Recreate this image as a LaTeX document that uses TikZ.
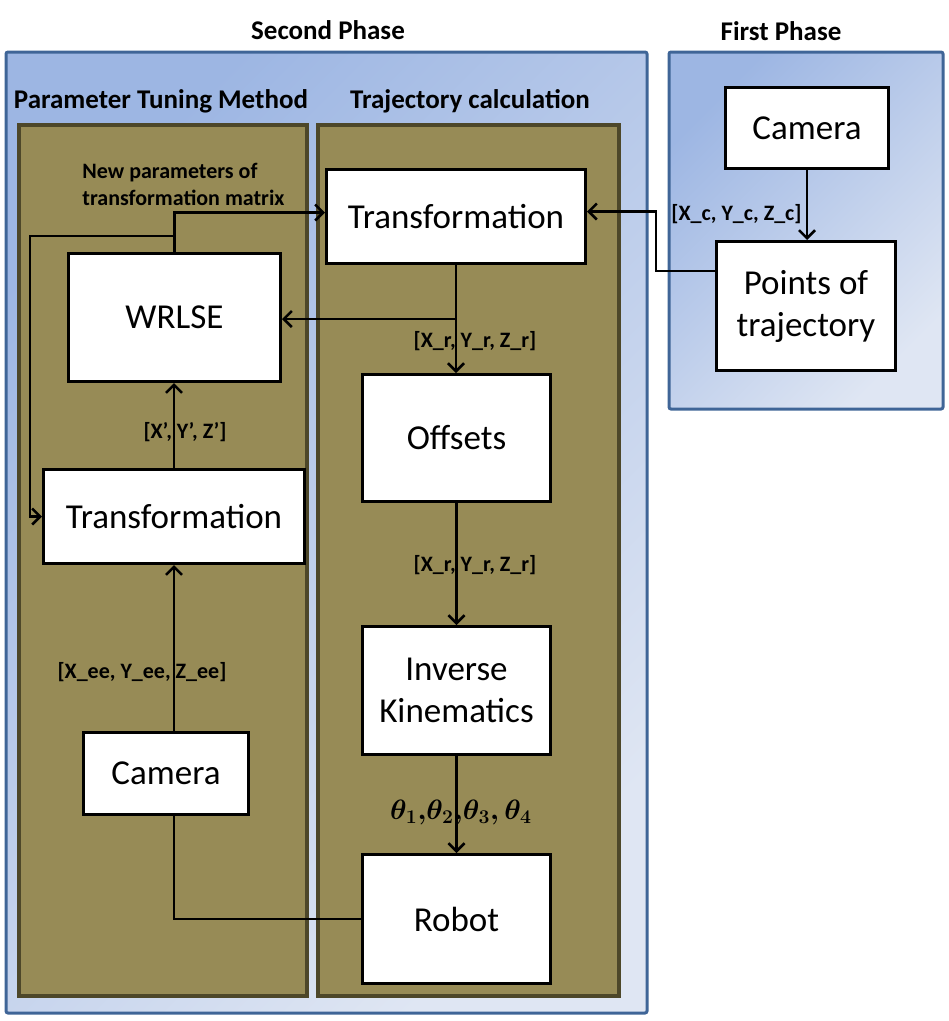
\documentclass[tikz,border=0pt]{standalone}
\usepackage{amsmath}
\usepackage{fontspec}
\setmainfont{Carlito}
\usetikzlibrary{arrows.meta}
\definecolor{phaseblueA}{HTML}{9DB6E3}
\definecolor{phaseblueB}{HTML}{DFE6F3}
\definecolor{phaseline}{HTML}{3F6597}
\definecolor{olivefill}{HTML}{978B56}
\definecolor{oliveline}{HTML}{4D4729}
\begin{document}
\begin{tikzpicture}[x=1pt, y=-1pt,
    >={Straight Barb[length=8pt,width=16pt]},
    every node/.style={font=\fontsize{35}{42}\selectfont},
    box/.style={draw, line width=3pt, fill=white, inner sep=0pt, align=center},
    phase/.style={draw=phaseline, line width=3pt, rounded corners=2pt, top color=phaseblueA, bottom color=phaseblueB, shading angle=45},
    panel/.style={draw=oliveline, line width=4pt, fill=olivefill},
    title/.style={font=\fontsize{27}{32}\selectfont\bfseries},
    lbl/.style={font=\fontsize{22}{27}\selectfont\bfseries, inner sep=0pt},
    conn/.style={line width=2.5pt}]
    \useasboundingbox (0,0) rectangle (949,1021);

    % Phases
    \path[phase] (6,52) rectangle (647,1013);
    \path[phase] (669,52) rectangle (943,409);
    \node[title] (secondT) at (328,30) {Second Phase};
    \node[title] (firstT) at (781,31) {First Phase};

    % Panels of the second phase
    \path[panel] (19,125) rectangle (307,996);
    \path[panel] (318,125) rectangle (619,996);
    \node[title] (tuneT) at (161,101) {Parameter Tuning Method};
    \node[title] (trajT) at (470,101) {Trajectory calculation};

    % First phase
    \node[box, minimum width=163, minimum height=81] (camA) at (807,128) {Camera};
    \node[box, minimum width=179, minimum height=129] (pts) at (806,306) {Points of\\trajectory};

    % Trajectory calculation
    \node[box, minimum width=259, minimum height=94] (trB) at (456,216.5) {Transformation};
    \node[box, minimum width=188, minimum height=127] (offs) at (456.5,438) {Offsets};
    \node[box, minimum width=188, minimum height=128] (ik) at (456.5,690.5) {Inverse\\Kinematics};
    \node[box, minimum width=188, minimum height=129] (robot) at (456.5,919) {Robot};

    % Parameter tuning
    \node[box, minimum width=212, minimum height=128] (wrlse) at (174.5,317.5) {WRLSE};
    \node[box, minimum width=261, minimum height=94] (trA) at (174,516.5) {Transformation};
    \node[box, minimum width=165, minimum height=82] (camB) at (166,773.5) {Camera};

    % Labels
    \node[lbl] (lc) at (736.5,214) {[X\_c, Y\_c, Z\_c]};
    \node[lbl] (lr1) at (475,341) {[X\_r, Y\_r, Z\_r]};
    \node[lbl] (lr2) at (475,565) {[X\_r, Y\_r, Z\_r]};
    \node[lbl, scale=1.35] (lth) at (461,812) {$\boldsymbol{\theta_1{,}\theta_2{,}\theta_3{,}\,\theta_4}$};
    \node[lbl] (lee) at (142,672) {[X\_ee, Y\_ee, Z\_ee]};
    \node[lbl] (lp) at (185,432) {[X’, Y’, Z’]};
    \node[lbl, align=left] (lnew) at (183.5,184) {New parameters of\\transformation matrix};

    % Arrows
    \coordinate (split) at (456,319);
    \draw[conn, ->] (camA.south) -- (camA.south |- pts.north);
    \draw[conn, ->] ([yshift=35pt]pts.west) -- ++(-59,0) |- ([yshift=5pt]trB.east);
    \draw[conn, ->] (trB.south) -- (trB.south |- offs.north);
    \draw[conn, ->] (split) -- (split -| wrlse.east);
    \draw[conn, ->] (offs.south) -- (offs.south |- ik.north);
    \draw[conn, ->] (ik.south) -- (ik.south |- robot.north);
    \draw[conn] (robot.west) -| (camB.south -| trA.south);
    \draw[conn, ->] (camB.north -| trA.south) -- (trA.south);
    \draw[conn, ->] (trA.north) -- (trA.north |- wrlse.south);
    \draw[conn, ->] (wrlse.north) |- ([yshift=4pt]trB.west);
    \draw[conn, ->] (wrlse.north) ++(0,-16) -| ([xshift=-12pt]trA.west) -- (trA.west);
\end{tikzpicture}
\end{document}
